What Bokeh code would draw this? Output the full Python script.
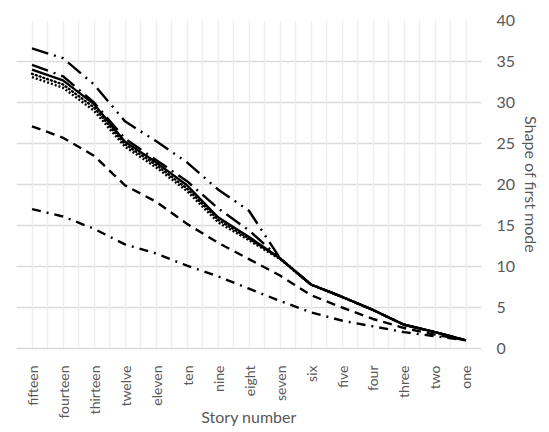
from bokeh.plotting import figure
from bokeh.models import Range1d, FixedTicker, Grid
from bokeh.embed import file_html
from bokeh.resources import INLINE

stories = ["fifteen", "fourteen", "thirteen", "twelve", "eleven", "ten", "nine",
           "eight", "seven", "six", "five", "four", "three", "two", "one"]

mode_solid = [34.0, 32.7, 29.8, 25.2, 22.7, 19.9, 16.0, 13.6, 11.0, 7.8, 6.3, 4.7, 2.9, 2.0, 1.0]
mode_round_dot = [33.5, 32.2, 29.4, 24.9, 22.4, 19.5, 15.7, 13.4, 11.0, 7.8, 6.3, 4.7, 2.9, 2.0, 1.0]
mode_square_dot = [33.1, 31.8, 29.0, 24.6, 22.1, 19.2, 15.4, 13.2, 10.9, 7.8, 6.3, 4.7, 2.9, 2.0, 1.0]
mode_long_dash_dot = [34.6, 33.2, 30.0, 25.6, 23.0, 20.4, 17.1, 14.4, 11.0, 7.8, 6.3, 4.7, 2.9, 2.0, 1.0]
mode_long_dash_dot_dot = [36.6, 35.4, 32.2, 27.7, 25.3, 22.7, 19.4, 16.8, 11.0, 7.8, 6.3, 4.7, 2.9, 2.0, 1.0]
mode_dash = [27.1, 25.7, 23.5, 19.9, 17.9, 15.2, 12.9, 10.9, 8.9, 6.5, 5.0, 3.6, 2.5, 1.7, 1.0]
mode_dash_dot = [17.0, 16.1, 14.6, 12.7, 11.6, 10.1, 8.8, 7.3, 5.8, 4.4, 3.4, 2.7, 2.0, 1.5, 1.0]

y_ticks = [0, 5, 10, 15, 20, 25, 30, 35, 40]

FONT = "Lato"
TEXT = "#595959"

xs = [i + 0.5 for i in range(len(stories))]

p = figure(frame_width=465, frame_height=328,
           x_range=Range1d(0, len(stories)), y_range=Range1d(0, 40),
           y_axis_location="right",
           output_backend="svg", toolbar_location=None,
           min_border_left=16, min_border_top=20,
           min_border_right=68, min_border_bottom=84)
p.outline_line_color = None
p.background_fill_color = "white"
p.border_fill_color = "white"

# horizontal grid at the value ticks
p.ygrid.grid_line_color = "#dcdcdc"
p.ygrid.grid_line_width = 1.4
p.ygrid.ticker = FixedTicker(ticks=y_ticks)

# vertical grid at category centres and boundaries
p.xgrid.visible = False
vgrid = Grid(dimension=0, ticker=FixedTicker(ticks=[i * 0.5 for i in range(2 * len(stories) + 1)]),
             grid_line_color="#eeeeee", grid_line_width=1.5)
p.add_layout(vgrid)

# x axis with story labels
xa = p.xaxis[0]
xa.ticker = FixedTicker(ticks=xs)
xa.major_label_overrides = {x: s for x, s in zip(xs, stories)}
xa.major_label_orientation = 1.5707963
xa.major_tick_line_color = None
xa.minor_tick_line_color = None
xa.axis_line_color = "#d9d9d9"
xa.axis_line_width = 1.5
xa.major_label_standoff = 11
xa.major_label_text_font = FONT
xa.major_label_text_font_size = "14px"
xa.major_label_text_color = TEXT
xa.axis_label = "Story number"
xa.axis_label_text_font = FONT
xa.axis_label_text_font_size = "16px"
xa.axis_label_text_font_style = "normal"
xa.axis_label_text_color = TEXT
xa.axis_label_standoff = -15

ya = p.yaxis[0]
ya.ticker = FixedTicker(ticks=y_ticks)
ya.axis_line_color = None
ya.major_tick_line_color = None
ya.minor_tick_line_color = None
ya.major_label_standoff = 9
ya.major_label_text_font = FONT
ya.major_label_text_font_size = "16px"
ya.major_label_text_color = TEXT
ya.axis_label = "Shape of first mode"
ya.axis_label_text_font = FONT
ya.axis_label_text_font_size = "16px"
ya.axis_label_text_font_style = "normal"
ya.axis_label_text_color = TEXT
ya.axis_label_standoff = 4

W = 2.4
series = [
    (mode_dash_dot, "9 6 2 6", "butt"),
    (mode_dash, "9 6", "butt"),
    (mode_long_dash_dot_dot, "17 6 2 6 2 6", "butt"),
    (mode_long_dash_dot, "17 6 2 6", "butt"),
    (mode_square_dot, "2 2", "butt"),
    (mode_round_dot, "1 3", "round"),
    (mode_solid, "solid", "butt"),
]
for vals, dash, cap in series:
    p.line(xs, vals, line_color="black", line_width=W, line_dash=dash,
           line_cap=cap, line_join="round")

open("out.html", "w").write(file_html(p, INLINE))
